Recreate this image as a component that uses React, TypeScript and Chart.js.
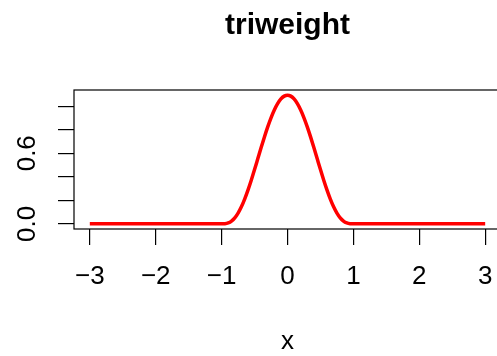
import React, { useEffect, useRef } from "react";
import { Chart, registerables } from "chart.js";

Chart.register(...registerables);

// Triweight kernel density sampled along x
const xValues = [
  -3, -1, -0.95, -0.9, -0.85, -0.8, -0.75, -0.7, -0.65, -0.6, -0.55, -0.5, -0.45, -0.4, -0.35,
  -0.3, -0.25, -0.2, -0.15, -0.1, -0.05, 0, 0.05, 0.1, 0.15, 0.2, 0.25, 0.3, 0.35, 0.4, 0.45,
  0.5, 0.55, 0.6, 0.65, 0.7, 0.75, 0.8, 0.85, 0.9, 0.95, 1, 3,
];
const densityValues = [
  0, 0, 0.001, 0.0075, 0.0234, 0.051, 0.0916, 0.1451, 0.2107, 0.2867, 0.3712, 0.4614, 0.5548,
  0.6483, 0.739, 0.8242, 0.9012, 0.9677, 1.0216, 1.0613, 1.0856, 1.0938, 1.0856, 1.0613, 1.0216,
  0.9677, 0.9012, 0.8242, 0.739, 0.6483, 0.5548, 0.4614, 0.3712, 0.2867, 0.2107, 0.1451, 0.0916,
  0.051, 0.0234, 0.0075, 0.001, 0, 0,
];

const xTicks = [-3, -2, -1, 0, 1, 2, 3];
const yTicks = [0, 0.2, 0.4, 0.6, 0.8, 1.0];
const yLabelledTicks = [0, 0.6];
const titleText = "triweight";
const xAxisLabel = "x";

const FONT = "'Liberation Sans', Arial, Helvetica, sans-serif";
const CANVAS_W = 510;
const CANVAS_H = 356;

// R-style 4% range extension
function padRange(lo: number, hi: number) {
  const d = (hi - lo) * 0.04;
  return [lo - d, hi + d];
}

const boxAndTitle = {
  id: "boxAndTitle",
  afterDraw(chart: any) {
    const { ctx, chartArea } = chart;
    ctx.save();
    ctx.strokeStyle = "#000";
    ctx.lineWidth = 1.2;
    ctx.strokeRect(
      chartArea.left,
      chartArea.top,
      chartArea.right - chartArea.left,
      chartArea.bottom - chartArea.top
    );
    ctx.fillStyle = "#000";
    ctx.font = `bold 30px ${FONT}`;
    ctx.textAlign = "center";
    ctx.textBaseline = "alphabetic";
    ctx.fillText(titleText, (chartArea.left + chartArea.right) / 2, 34);
    ctx.restore();
  },
};

export default function App() {
  const canvasRef = useRef<HTMLCanvasElement | null>(null);

  useEffect(() => {
    const canvas = canvasRef.current;
    if (!canvas) return;
    const [xMin, xMax] = padRange(Math.min(...xValues), Math.max(...xValues));
    const [yMin, yMax] = padRange(Math.min(...densityValues), Math.max(...densityValues));

    const chart = new Chart(canvas, {
      type: "line",
      data: {
        datasets: [
          {
            data: xValues.map((x, i) => ({ x, y: densityValues[i] })),
            borderColor: "#FF0000",
            borderWidth: 3.5,
            pointRadius: 0,
            cubicInterpolationMode: "monotone",
            fill: false,
          },
        ],
      },
      options: {
        animation: false,
        responsive: false,
        devicePixelRatio: 1,
        layout: { padding: { top: 90, right: 9, bottom: 0, left: 0 } },
        plugins: {
          legend: { display: false },
          title: { display: false },
          tooltip: { enabled: false },
        },
        scales: {
          x: {
            type: "linear",
            min: xMin,
            max: xMax,
            afterBuildTicks: (scale: any) => {
              scale.ticks = xTicks.map((v) => ({ value: v }));
            },
            afterFit: (scale: any) => {
              scale.height = 127;
            },
            border: { display: false },
            grid: {
              drawOnChartArea: false,
              drawTicks: true,
              tickLength: 16,
              color: "#000",
              lineWidth: 1.2,
            },
            ticks: {
              autoSkip: false,
              maxRotation: 0,
              padding: 16,
              color: "#000",
              font: { family: FONT, size: 26 },
              callback: (v: any) => (v < 0 ? "\u2212" + Math.abs(v) : String(v)),
            },
            title: {
              display: true,
              text: xAxisLabel,
              color: "#000",
              font: { family: FONT, size: 26, lineHeight: 1 },
              padding: { top: 0, bottom: 1 },
            },
          },
          y: {
            type: "linear",
            min: yMin,
            max: yMax,
            afterBuildTicks: (scale: any) => {
              scale.ticks = yTicks.map((v) => ({ value: v }));
            },
            afterFit: (scale: any) => {
              scale.width = 74;
            },
            border: { display: false },
            grid: {
              drawOnChartArea: false,
              drawTicks: true,
              tickLength: 16,
              color: "#000",
              lineWidth: 1.2,
            },
            ticks: {
              autoSkip: false,
              minRotation: 90,
              maxRotation: 90,
              crossAlign: "center",
              padding: 12,
              color: "#000",
              font: { family: FONT, size: 26 },
              callback: (v: any) =>
                yLabelledTicks.some((t) => Math.abs(t - v) < 1e-9) ? Number(v).toFixed(1) : "",
            },
          },
        },
      },
      plugins: [boxAndTitle],
    } as any);

    return () => chart.destroy();
  }, []);

  return (
    <div
      style={{
        position: "fixed",
        left: 0,
        top: 0,
        width: 497,
        height: 356,
        overflow: "hidden",
        background: "#fff",
      }}
    >
      <canvas
        ref={canvasRef}
        width={CANVAS_W}
        height={CANVAS_H}
        style={{ display: "block", width: CANVAS_W, height: CANVAS_H }}
      />
    </div>
  );
}
